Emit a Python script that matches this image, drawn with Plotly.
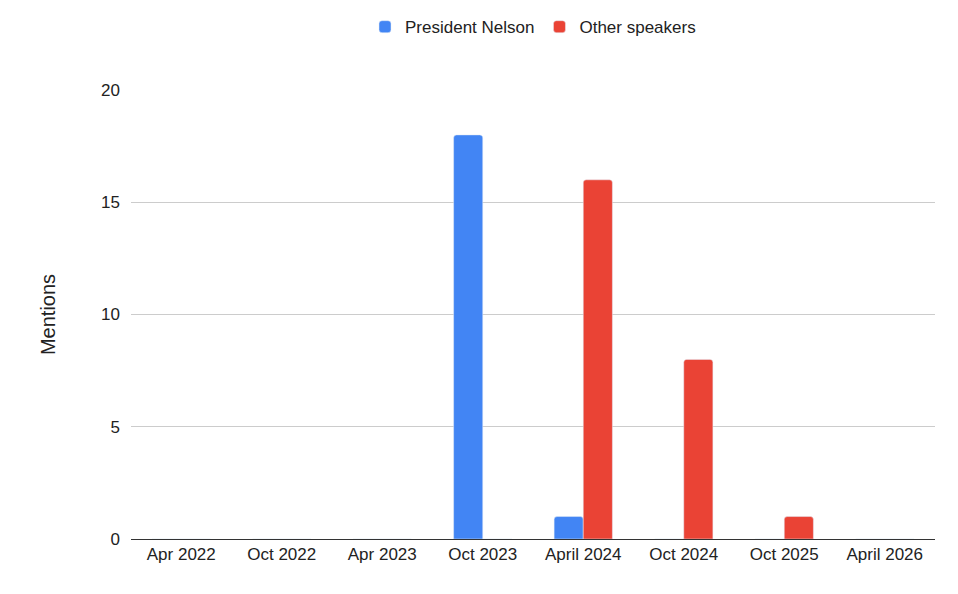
import plotly.graph_objects as go

sessions = ["Apr 2022", "Oct 2022", "Apr 2023", "Oct 2023", "April 2024", "Oct 2024", "Oct 2025", "April 2026"]
nelson = [0, 0, 0, 18, 1, 0, 0, 0]
others = [0, 0, 0, 0, 16, 8, 1, 0]

fig = go.Figure()
fig.add_trace(go.Bar(x=sessions, y=nelson, name="President Nelson", marker_color="#4285F4", marker_cornerradius=3))
fig.add_trace(go.Bar(x=sessions, y=others, name="Other speakers", marker_color="#EA4335", marker_cornerradius=3))

fig.update_layout(
    width=958, height=594,
    barmode="group", bargap=0.42, bargroupgap=0,
    plot_bgcolor="white", paper_bgcolor="white",
    font=dict(family="Liberation Sans, Arial", size=17, color="#222"),
    margin=dict(l=123, r=31, t=82, b=63, autoexpand=False),
    legend=dict(orientation="h", x=0.5, xanchor="center", y=1.14, yanchor="middle", font=dict(size=17)),
    yaxis=dict(title=dict(text="Mentions", standoff=40), range=[0, 20], dtick=5,
               gridcolor="#cccccc", zeroline=False, ticks="", ticklabelstandoff=10),
    xaxis=dict(showline=True, linecolor="#333", linewidth=1, ticks=""),
)
fig.write_html("out.html")
